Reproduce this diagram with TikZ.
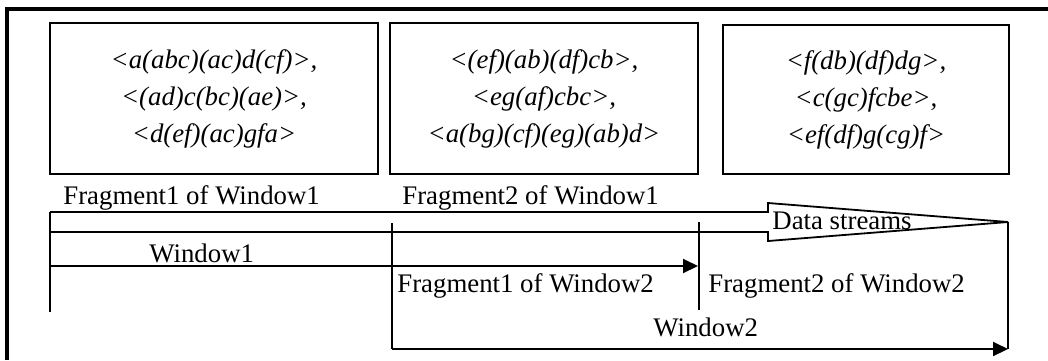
\documentclass[tikz,border=0pt]{standalone}
\usepackage{fontspec}
\setmainfont{Liberation Serif}
\usetikzlibrary{arrows.meta}

\begin{document}
\begin{tikzpicture}[x=0.5pt, y=-0.5pt,
  every node/.style={font=\fontsize{13.4}{18.5}\selectfont, inner sep=0pt},
  seqbox/.style={draw, line width=1.3pt, align=center,
    font=\fontsize{13.4}{18.5}\selectfont\itshape},
  tline/.style={line width=0.9pt},
  winarrow/.style={line width=1pt, -{Triangle[length=7.5pt,width=7pt]}}]
  \useasboundingbox (0,0) rectangle (1048,360);
  \draw[line width=1.6pt] (7,360) -- (7,9) -- (1048,9);

  % fragments of sequences
  \node[seqbox, minimum width=164pt, minimum height=75.5pt] (frag1) at (214,98.5)
    {<a(abc)(ac)d(cf)>,\\<(ad)c(bc)(ae)>,\\<d(ef)(ac)gfa>};
  \node[seqbox, minimum width=154pt, minimum height=75.5pt] (frag2) at (544,98.5)
    {<(ef)(ab)(df)cb>,\\<eg(af)cbc>,\\<a(bg)(cf)(eg)(ab)d>};
  \node[seqbox, minimum width=143pt, minimum height=74.5pt] (frag3) at (866,99.5)
    {<f(db)(df)dg>,\\<c(gc)fcbe>,\\<ef(df)g(cg)f>};

  % time line points
  \coordinate (s0) at (50,212);
  \coordinate (s0b) at (50,312);
  \coordinate (s1) at (392,223);
  \coordinate (s1b) at (392,349);
  \coordinate (s2) at (699,222);
  \coordinate (s2b) at (699,310);
  \coordinate (tip) at (1008,222);
  \coordinate (tipb) at (1008,349);
  \coordinate (w1s) at (50,266);
  \coordinate (w1e) at (698,266);

  % data streams
  \draw[tline] (s0) -- (768,212) -- (768,203) -- (tip) -- (768,241) -- (768,232) -- (50,232);
  \draw[tline] (s0) -- (s0b);
  \draw[tline] (s1) -- (s1b);
  \draw[tline] (s2) -- (s2b);
  \draw[line width=1.3pt] (tip) -- (tipb);
  \draw[winarrow] (w1s) -- (w1e);
  \draw[winarrow] (s1b) -- (tipb);

  \node[anchor=base west] (lf11) at (63,204) {Fragment1 of Window1};
  \node[anchor=base west] (lf21) at (402,204) {Fragment2 of Window1};
  \node[anchor=base west] (lds) at (772,229) {Data streams};
  \node[anchor=base west] (lw1) at (149,262) {Window1};
  \node[anchor=base west] (lf12) at (397,292) {Fragment1 of Window2};
  \node[anchor=base west] (lf22) at (708,292) {Fragment2 of Window2};
  \node[anchor=base west] (lw2) at (653,336) {Window2};
\end{tikzpicture}
\end{document}
